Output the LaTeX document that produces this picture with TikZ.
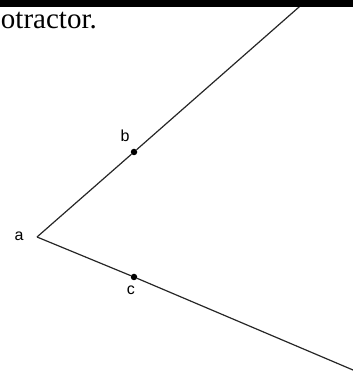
\documentclass[tikz,border=0pt]{standalone}
\usepackage{fontspec}
\setmainfont{Liberation Serif}
\newfontfamily\labelfont{Liberation Sans}
\begin{document}
\begin{tikzpicture}[x=1pt,y=1pt,
  ray/.style={draw=black!85, line width=1.2pt},
  dotpt/.style={circle, fill=black, inner sep=0pt, minimum size=6.5pt},
  ptlabel/.style={font=\labelfont\fontsize{16}{18}\selectfont, inner sep=0pt}]
\useasboundingbox (0,0) rectangle (353,376);
\clip (0,0) rectangle (353,376);
\coordinate (a) at (37,139);
\coordinate (top) at (307,376);
\coordinate (bot) at (353,6);
\node[dotpt] (b) at (134,224) {};
\node[dotpt] (c) at (134,99) {};
\draw[ray] (a) -- (b) -- (top);
\draw[ray] (a) -- (c) -- (bot);
\node[ptlabel] (la) at (19,140) {a};
\node[ptlabel] (lb) at (125,240) {b};
\node[ptlabel] (lc) at (131,86) {c};
\node[anchor=base east, inner sep=0pt, font=\fontsize{29}{33}\selectfont] (txt) at (97,348) {otractor.};
\fill[black] (0,369) rectangle (353,376);
\end{tikzpicture}
\end{document}
